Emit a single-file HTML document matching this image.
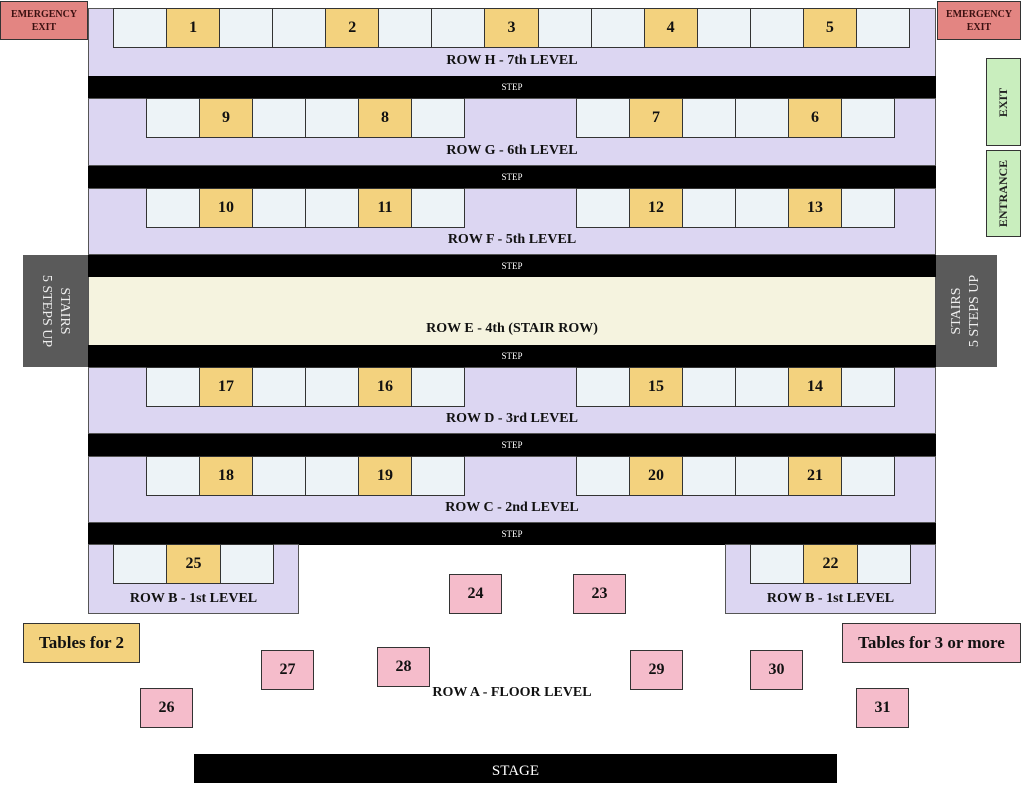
<!DOCTYPE html>
<html><head><meta charset="utf-8"><style>
*{margin:0;padding:0;box-sizing:border-box}
body{width:1024px;height:791px;position:relative;background:#fff;font-family:"Liberation Serif",serif;overflow:hidden}
.a{position:absolute}
.lav{background:#dcd6f2;border:1.5px solid #555}
.step{background:#000;color:#fff;font-size:9px;text-align:center;line-height:22px}
.row{display:flex;border:1.5px solid #333;height:40px}
.row div{flex:1;background:#edf3f7;border-right:1.5px solid #333;font-weight:bold;font-size:16px;display:flex;align-items:center;justify-content:center;color:#111}
.row div:last-child{border-right:none}
.row .y{background:#f3d27e}
.lbl{font-weight:bold;font-size:14px;text-align:center;color:#111}
.pk{background:#f5bccb;border:1.5px solid #333;font-weight:bold;font-size:16px;display:flex;align-items:center;justify-content:center;color:#111}
.vt{display:flex;align-items:center;justify-content:center}
</style></head><body>
<div class="a lav" style="left:88px;top:8px;width:848px;height:69px"></div>
<div class="a row" style="left:113px;top:8px;width:797px"><div></div><div class="y">1</div><div></div><div></div><div class="y">2</div><div></div><div></div><div class="y">3</div><div></div><div></div><div class="y">4</div><div></div><div></div><div class="y">5</div><div></div></div>
<div class="a lbl" style="left:88px;top:53px;width:848px">ROW H - 7th LEVEL</div>
<div class="a step" style="left:88px;top:76px;width:848px;height:22px">STEP</div>
<div class="a lav" style="left:88px;top:98px;width:848px;height:68px"></div>
<div class="a row" style="left:146px;top:98px;width:319px"><div></div><div class="y">9</div><div></div><div></div><div class="y">8</div><div></div></div>
<div class="a row" style="left:576px;top:98px;width:319px"><div></div><div class="y">7</div><div></div><div></div><div class="y">6</div><div></div></div>
<div class="a lbl" style="left:88px;top:143px;width:848px">ROW G - 6th LEVEL</div>
<div class="a step" style="left:88px;top:166px;width:848px;height:22px">STEP</div>
<div class="a lav" style="left:88px;top:188px;width:848px;height:67px"></div>
<div class="a row" style="left:146px;top:188px;width:319px"><div></div><div class="y">10</div><div></div><div></div><div class="y">11</div><div></div></div>
<div class="a row" style="left:576px;top:188px;width:319px"><div></div><div class="y">12</div><div></div><div></div><div class="y">13</div><div></div></div>
<div class="a lbl" style="left:88px;top:232px;width:848px">ROW F - 5th LEVEL</div>
<div class="a step" style="left:88px;top:255px;width:848px;height:22px">STEP</div>
<div class="a" style="left:88px;top:277px;width:848px;height:68px;background:#f5f3df;border-left:1.5px solid #555;border-right:1.5px solid #555"></div>
<div class="a lbl" style="left:88px;top:321px;width:848px">ROW E - 4th (STAIR ROW)</div>
<div class="a step" style="left:88px;top:345px;width:848px;height:22px">STEP</div>
<div class="a lav" style="left:88px;top:367px;width:848px;height:67px"></div>
<div class="a row" style="left:146px;top:367px;width:319px"><div></div><div class="y">17</div><div></div><div></div><div class="y">16</div><div></div></div>
<div class="a row" style="left:576px;top:367px;width:319px"><div></div><div class="y">15</div><div></div><div></div><div class="y">14</div><div></div></div>
<div class="a lbl" style="left:88px;top:411px;width:848px">ROW D - 3rd LEVEL</div>
<div class="a step" style="left:88px;top:434px;width:848px;height:22px">STEP</div>
<div class="a lav" style="left:88px;top:456px;width:848px;height:67px"></div>
<div class="a row" style="left:146px;top:456px;width:319px"><div></div><div class="y">18</div><div></div><div></div><div class="y">19</div><div></div></div>
<div class="a row" style="left:576px;top:456px;width:319px"><div></div><div class="y">20</div><div></div><div></div><div class="y">21</div><div></div></div>
<div class="a lbl" style="left:88px;top:500px;width:848px">ROW C - 2nd LEVEL</div>
<div class="a step" style="left:88px;top:523px;width:848px;height:22px">STEP</div>
<div class="a lav" style="left:88px;top:544px;width:211px;height:70px"></div>
<div class="a row" style="left:113px;top:544px;width:161px"><div></div><div class="y">25</div><div></div></div>
<div class="a lbl" style="left:88px;top:591px;width:211px">ROW B - 1st LEVEL</div>
<div class="a lav" style="left:725px;top:544px;width:211px;height:70px"></div>
<div class="a row" style="left:750px;top:544px;width:161px"><div></div><div class="y">22</div><div></div></div>
<div class="a lbl" style="left:725px;top:591px;width:211px">ROW B - 1st LEVEL</div>
<div class="a vt" style="left:23px;top:255px;width:65px;height:112px;background:#5a5a5a"><div style="transform:rotate(90deg);color:#eee;font-size:14px;text-align:center;white-space:nowrap;line-height:18px">STAIRS<br>5 STEPS UP</div></div>
<div class="a vt" style="left:936px;top:255px;width:61px;height:112px;background:#5a5a5a"><div style="transform:rotate(-90deg);color:#eee;font-size:14px;text-align:center;white-space:nowrap;line-height:18px">STAIRS<br>5 STEPS UP</div></div>
<div class="a vt" style="left:0;top:1px;width:88px;height:39px;background:#e38582;border:1.5px solid #333;font-weight:bold;font-size:10px;text-align:center;line-height:13px;color:#3a1010">EMERGENCY<br>EXIT</div>
<div class="a vt" style="left:937px;top:1px;width:84px;height:39px;background:#e38582;border:1.5px solid #333;font-weight:bold;font-size:10px;text-align:center;line-height:13px;color:#3a1010">EMERGENCY<br>EXIT</div>
<div class="a vt" style="left:986px;top:58px;width:35px;height:88px;background:#c9eebe;border:1.5px solid #333"><div style="transform:rotate(-90deg);font-weight:bold;font-size:12px;color:#222">EXIT</div></div>
<div class="a vt" style="left:986px;top:150px;width:35px;height:87px;background:#c9eebe;border:1.5px solid #333"><div style="transform:rotate(-90deg);font-weight:bold;font-size:12px;color:#222;white-space:nowrap">ENTRANCE</div></div>
<div class="a pk" style="left:449px;top:574px;width:53px;height:40px">24</div>
<div class="a pk" style="left:573px;top:574px;width:53px;height:40px">23</div>
<div class="a pk" style="left:261px;top:650px;width:53px;height:40px">27</div>
<div class="a pk" style="left:377px;top:647px;width:53px;height:40px">28</div>
<div class="a pk" style="left:630px;top:650px;width:53px;height:40px">29</div>
<div class="a pk" style="left:750px;top:650px;width:53px;height:40px">30</div>
<div class="a pk" style="left:140px;top:688px;width:53px;height:40px">26</div>
<div class="a pk" style="left:856px;top:688px;width:53px;height:40px">31</div>
<div class="a pk" style="left:23px;top:623px;width:117px;height:40px;background:#f3d27e;font-size:17px">Tables for 2</div>
<div class="a pk" style="left:842px;top:623px;width:179px;height:40px;font-size:17px">Tables for 3 or more</div>
<div class="a lbl" style="left:400px;top:685px;width:224px">ROW A - FLOOR LEVEL</div>
<div class="a" style="left:194px;top:754px;width:643px;height:29px;background:#000;color:#fff;font-size:15px;text-align:center;line-height:34px">STAGE</div>
</body></html>
